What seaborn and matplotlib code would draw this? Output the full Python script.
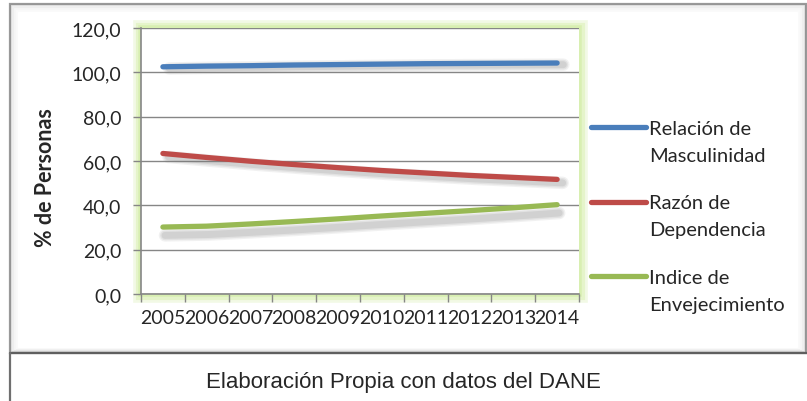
import numpy as np
import pandas as pd
import matplotlib
matplotlib.use("Agg")
import matplotlib.pyplot as plt
import matplotlib.patheffects as pe
from matplotlib.lines import Line2D
from matplotlib.legend_handler import HandlerLine2D
from matplotlib.patches import Rectangle
from matplotlib.ticker import FuncFormatter, FixedLocator, NullFormatter
import seaborn as sns

# datos (DANE)
years = list(range(2005, 2015))
masculinidad = [102.5, 102.8, 103.0, 103.3, 103.5, 103.7, 103.9, 104.0, 104.1, 104.2]
dependencia = [63.4, 61.6, 59.9, 58.4, 57.0, 55.7, 54.6, 53.5, 52.6, 51.7]
envejecimiento = [30.2, 30.6, 31.6, 32.7, 33.9, 35.2, 36.4, 37.6, 38.9, 40.3]
series_names = ["Relación de\nMasculinidad", "Razón de\nDependencia", "Indice de\nEnvejecimiento"]
y_ticks = [0, 20, 40, 60, 80, 100, 120]

colors = ["#4A7EBB", "#BE4B48", "#98B954"]
shadow_offsets = [(4.5, -1.2), (4.0, -2.5), (1.5, -6.0)]

df = pd.DataFrame({
    "year": years * 3,
    "valor": masculinidad + dependencia + envejecimiento,
    "serie": np.repeat(series_names, len(years)),
})

sns.set_style("white")
plt.rcParams["font.family"] = ["Lato", "DejaVu Sans"]

W, H = 807, 402
fig = plt.figure(figsize=(W / 100, H / 100), dpi=100)


def fx(px):
    return px / W


def fy(py):
    return 1 - py / H


# marco exterior del grafico
fig.patches.append(Rectangle((fx(10), fy(354)), fx(796), 349 / H, transform=fig.transFigure,
                             fill=False, edgecolor="#9a9a9a", lw=1.6, zorder=-5))
for i, a in enumerate([0.18, 0.12, 0.07, 0.04]):
    fig.patches.append(Rectangle((fx(11 + i * 2), fy(353 - i)), fx(794 - i * 4), (347 - i * 3) / H,
                                 transform=fig.transFigure, fill=False, edgecolor="gray",
                                 lw=1.5, alpha=a, zorder=-5))
fig.add_artist(Line2D([fx(10), fx(807)], [fy(354), fy(354)], transform=fig.transFigure,
                      color="#5f5f5f", lw=1.6))
fig.add_artist(Line2D([fx(10), fx(10)], [fy(354), 0], transform=fig.transFigure,
                      color="#6f6f6f", lw=1.6))

# brillo verde del area de trazado
ax_box = (141, 29, 579, 295)
for lw, a in [(12, 0.25), (8, 0.35), (4, 0.5)]:
    fig.patches.append(Rectangle((fx(ax_box[0]), fy(ax_box[3])), fx(ax_box[2] - ax_box[0]),
                                 (ax_box[3] - ax_box[1]) / H, transform=fig.transFigure,
                                 fill=False, edgecolor="#cdeb9a", lw=lw, alpha=a, zorder=-2))

ax = fig.add_axes([fx(ax_box[0]), fy(ax_box[3]), fx(ax_box[2] - ax_box[0]),
                   (ax_box[3] - ax_box[1]) / H])

for name, color, off in zip(series_names, colors, shadow_offsets):
    shadows = [pe.SimpleLineShadow(offset=off, shadow_color="#7a7a7a", alpha=al, linewidth=lw)
               for lw, al in [(9, 0.10), (7, 0.12), (5, 0.16)]]
    sns.lineplot(data=df[df["serie"] == name], x="year", y="valor", color=color, lw=3.8,
                 solid_capstyle="round", ax=ax, legend=False,
                 path_effects=shadows + [pe.Normal()])

ax.set_ylim(0, 120)
ax.set_xlim(years[0] - 0.5, years[-1] + 0.5)
ax.set_yticks(y_ticks)
ax.yaxis.set_major_formatter(FuncFormatter(lambda v, p: f"{v:.1f}".replace(".", ",")))
ax.grid(axis="y", color="#868686", lw=1.0)
ax.set_axisbelow(True)

ax.xaxis.set_major_locator(FixedLocator(np.arange(years[0] - 0.5, years[-1] + 1, 1)))
ax.xaxis.set_major_formatter(NullFormatter())
ax.xaxis.set_minor_locator(FixedLocator(years))
ax.xaxis.set_minor_formatter(FuncFormatter(lambda v, p: f"{int(round(v))}"))

ax.tick_params(axis="y", direction="out", length=6, width=1, color="#868686",
               labelsize=14, pad=8, left=True)
ax.tick_params(axis="x", which="major", direction="out", length=6, width=1,
               color="#868686", bottom=True)
ax.tick_params(axis="x", which="minor", length=0, labelsize=14, pad=11)

for s in ["top", "right"]:
    ax.spines[s].set_visible(False)
for s in ["left", "bottom"]:
    ax.spines[s].set_color("#868686")
    ax.spines[s].set_linewidth(1.2)

ax.set_xlabel("")
ax.set_ylabel("")
fig.text(fx(45), fy(178), "% de Personas", rotation=90, ha="center", va="center",
         fontsize=15.5, fontweight="bold")


class FirstLineHandler(HandlerLine2D):
    def create_artists(self, legend, orig_handle, xdescent, ydescent, width, height,
                       fontsize, trans):
        arts = super().create_artists(legend, orig_handle, xdescent, ydescent, width,
                                      height, fontsize, trans)
        for a in arts:
            a.set_ydata(np.asarray(a.get_ydata()) + 0.72 * fontsize)
        return arts


handles = [Line2D([], [], color=c, lw=3.8, solid_capstyle="round") for c in colors]
leg = fig.legend(handles, series_names, loc="upper left",
                 bbox_to_anchor=(fx(591), fy(121)), frameon=False, fontsize=14.5,
                 handlelength=2.75, handletextpad=0.12, labelspacing=1.5, borderpad=0,
                 borderaxespad=0, handler_map={Line2D: FirstLineHandler()})
for t in leg.get_texts():
    t.set_linespacing(1.72)

fig.text(fx(403), fy(383), "Elaboración Propia con datos del DANE", ha="center",
         va="center", fontsize=16, family="Liberation Sans")

fig.savefig("out.png", dpi=100)
